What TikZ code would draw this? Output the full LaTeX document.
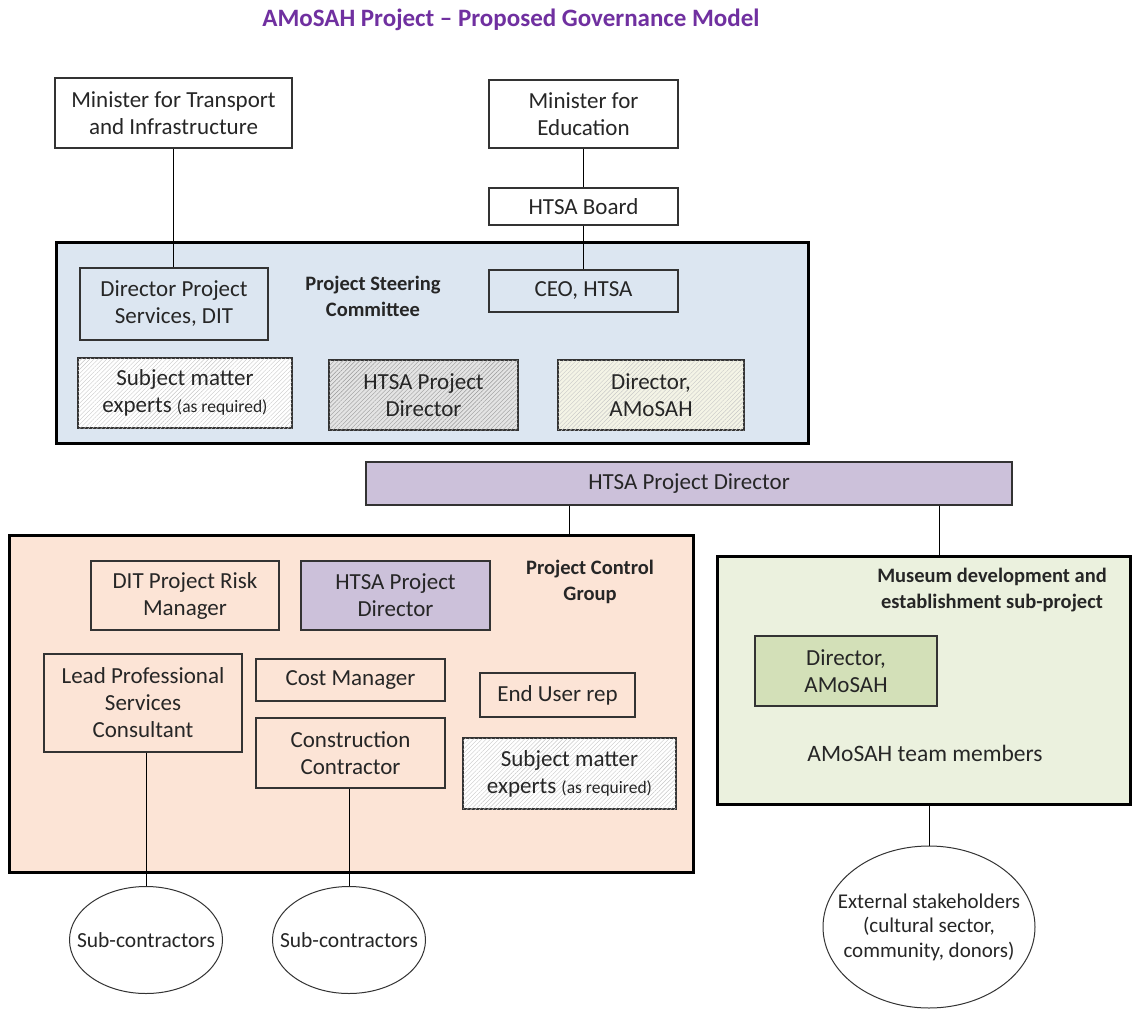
\documentclass[tikz,border=0pt]{standalone}
\usepackage{fontspec}
\setmainfont{Carlito}
\usetikzlibrary{shapes.geometric,patterns.meta}
\definecolor{steerfill}{HTML}{DCE6F1}
\definecolor{ctrlfill}{HTML}{FCE4D6}
\definecolor{musfill}{HTML}{EBF1DE}
\definecolor{barfill}{HTML}{CCC1DA}
\definecolor{greenfill}{HTML}{D3E0B8}
\definecolor{titlepurple}{HTML}{7030A0}
\definecolor{hatchgray}{HTML}{E4E4E4}
\definecolor{hatchyellow}{HTML}{F4F4E6}
\begin{document}
\begin{tikzpicture}[x=1pt,y=-1pt,
  box/.style={draw=black!80, line width=1.3pt, align=center, inner sep=2pt,
    font=\fontsize{23}{27}\selectfont, text=black!85},
  group/.style={draw=black, line width=3pt, inner sep=0pt},
  lbl/.style={font=\bfseries\fontsize{20.5}{26}\selectfont, align=center, text=black!85},
  conn/.style={draw=black, line width=1pt},
  oval/.style={draw=black!80, line width=1pt, fill=white, ellipse, inner ysep=0pt,
    inner xsep=-18pt, align=center, text=black!85},
  hatch/.style={postaction={pattern={Lines[angle=45,distance=3pt,line width=0.4pt]}, pattern color=#1}}
]
\useasboundingbox (0,0) rectangle (1133,1009);
\fill[white] (0,0) rectangle (1133,1009);

% title
\node[font=\bfseries\fontsize{25}{30}\selectfont, text=titlepurple] (title) at (511,20)
  {AMoSAH Project – Proposed Governance Model};

% group containers
\node[group, fill=steerfill, minimum width=752, minimum height=201] (psc) at (432,342.5) {};
\node[group, fill=ctrlfill, minimum width=684, minimum height=337] (pcg) at (351,703.5) {};
\node[group, fill=musfill, minimum width=413, minimum height=248] (mus) at (923.5,680) {};

% top
\node[box, fill=white, minimum width=237, minimum height=70] (mt) at (173.5,113)
  {Minister for Transport\\and Infrastructure};
\node[box, fill=white, minimum width=189, minimum height=68] (me) at (583.5,114)
  {Minister for\\Education};
\node[box, fill=white, minimum width=189, minimum height=37] (hb) at (583.5,206.5)
  {HTSA Board};

% steering committee
\node[box, minimum width=188, minimum height=72] (dps) at (174,304)
  {Director Project\\Services, DIT};
\node[lbl] (psclbl) at (373,296) {Project Steering\\Committee};
\node[box, minimum width=189, minimum height=42] (ceo) at (583.5,291)
  {CEO, HTSA};
\node[box, fill=white, hatch=black!22, minimum width=214, minimum height=70] (sme1) at (185,393)
  {Subject matter\\experts {\fontsize{17.5}{20}\selectfont(as required)}};
\node[box, fill=hatchgray, hatch=black!40, minimum width=189, minimum height=70] (hpd1) at (423.5,395)
  {HTSA Project\\Director};
\node[box, fill=hatchyellow, hatch=black!22, minimum width=186, minimum height=70] (da1) at (651,395)
  {Director,\\AMoSAH};

% bar
\node[box, fill=barfill, minimum width=646, minimum height=43] (bar) at (689,483.5)
  {HTSA Project Director};

% control group
\node[box, minimum width=188, minimum height=69] (risk) at (185,595.5)
  {DIT Project Risk\\Manager};
\node[box, fill=barfill, minimum width=189, minimum height=69] (hpd2) at (395.5,595.5)
  {HTSA Project\\Director};
\node[lbl] (pcglbl) at (590,582) {Project Control\\Group};
\node[box, minimum width=198, minimum height=98] (lp) at (143,703)
  {Lead Professional\\Services\\Consultant};
\node[box, minimum width=189, minimum height=42] (cm) at (350.5,680)
  {Cost Manager};
\node[box, minimum width=155, minimum height=44] (eu) at (557.5,695)
  {End User rep};
\node[box, minimum width=189, minimum height=70] (cc) at (350.5,753)
  {Construction\\Contractor};
\node[box, fill=white, hatch=black!22, minimum width=213, minimum height=71] (sme2) at (569.5,773.5)
  {Subject matter\\experts {\fontsize{17.5}{20}\selectfont(as required)}};

% museum
\node[lbl] (muslbl) at (992,590) {Museum development and\\establishment sub-project};
\node[box, fill=greenfill, minimum width=182, minimum height=70] (da2) at (846,671)
  {Director,\\AMoSAH};
\node[font=\fontsize{23.5}{28}\selectfont, text=black!85] (team) at (925,753) {AMoSAH team members};

% ellipses
\node[oval, minimum width=153, minimum height=107, font=\fontsize{21.5}{24}\selectfont] (sub1) at (146,940) {Sub-contractors};
\node[oval, minimum width=153, minimum height=107, font=\fontsize{21.5}{24}\selectfont] (sub2) at (349,940) {Sub-contractors};
\node[oval, minimum width=212, minimum height=162, font=\fontsize{21}{24.5}\selectfont] (ext) at (929,927)
  {External stakeholders\\(cultural sector,\\community, donors)};

% connectors
\draw[conn] (mt.south) -- (mt.south |- dps.north);
\draw[conn] (me.south) -- (hb.north);
\draw[conn] (hb.south) -- (ceo.north);
\draw[conn] ([xshift=-120]bar.south) -- ([xshift=-120]bar.south |- pcg.north);
\draw[conn] ([xshift=250]bar.south) -- ([xshift=250]bar.south |- mus.north);
\draw[conn] (sub1.north |- lp.south) -- (sub1.north);
\draw[conn] (sub2.north |- cc.south) -- (sub2.north);
\draw[conn] (ext.north |- mus.south) -- (ext.north);
\end{tikzpicture}
\end{document}
